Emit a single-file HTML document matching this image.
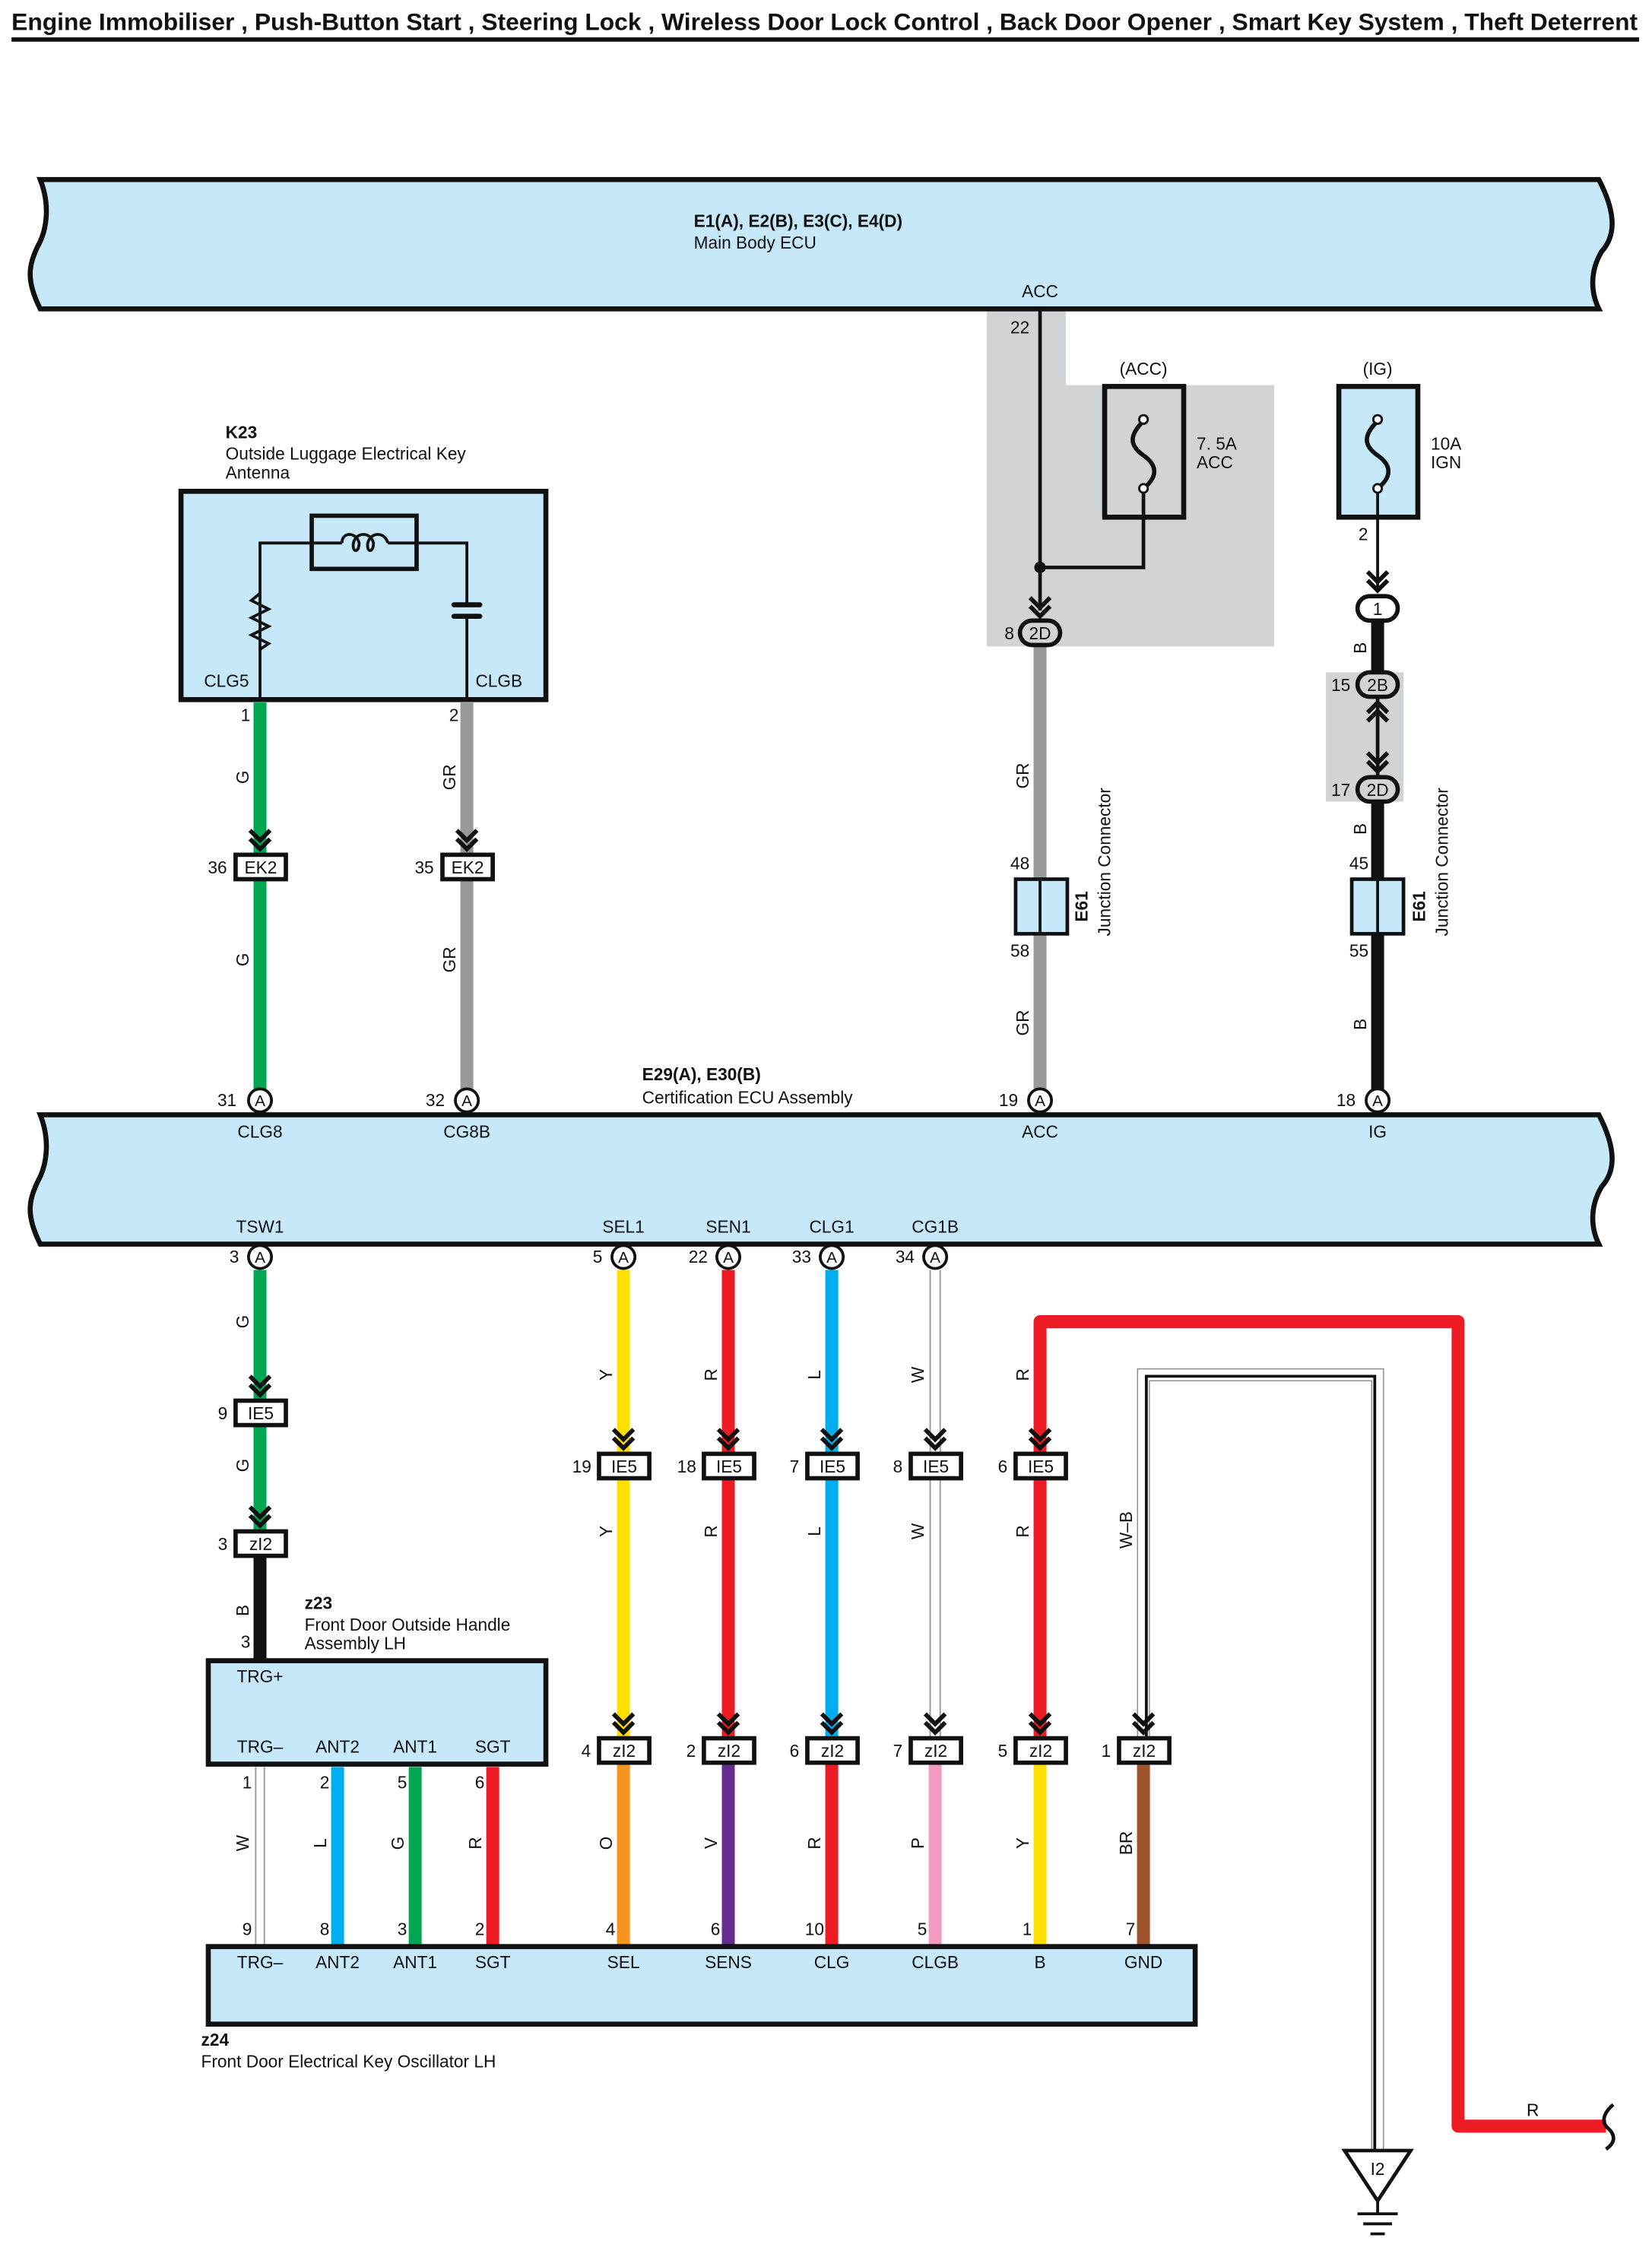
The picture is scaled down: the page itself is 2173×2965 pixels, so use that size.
<!DOCTYPE html>
<html><head><meta charset="utf-8"><style>
html,body{margin:0;padding:0;background:#fff}
svg{display:block}
text{font-family:"Liberation Sans",Arial,sans-serif;fill:#111}
</style></head><body>
<svg width="2173" height="2965" viewBox="0 0 1150 1569" preserveAspectRatio="none" xmlns="http://www.w3.org/2000/svg">
<defs>
<g id="chev"><polyline points="-7,-16 0,-9 7,-16" fill="none" stroke="#111" stroke-width="3"/><polyline points="-7,-10 0,-3 7,-10" fill="none" stroke="#111" stroke-width="3"/></g>
<g id="chevu"><polyline points="-7,16 0,9 7,16" fill="none" stroke="#111" stroke-width="3"/><polyline points="-7,10 0,3 7,10" fill="none" stroke="#111" stroke-width="3"/></g>
</defs>
<rect width="1150" height="1569" fill="#fff"/>
<!-- title -->
<text x="8" y="21" font-size="16.5" font-weight="bold" textLength="1132" lengthAdjust="spacingAndGlyphs">Engine Immobiliser , Push-Button Start , Steering Lock , Wireless Door Lock Control , Back Door Opener , Smart Key System , Theft Deterrent</text>
<rect x="8" y="26" width="1133" height="3" fill="#111"/>

<!-- gray shaded areas -->
<path d="M687,215 H742 V268 H887 V450 H687 Z" fill="#d2d3d5"/>
<rect x="923" y="468" width="54" height="90" fill="#d2d3d5"/>

<!-- Main body ECU -->
<path d="M28,125 H1113 C1126,150 1124,165 1115,175 C1106,190 1108,205 1113,215 H28 C18,195 20,185 26,172 C34,158 34,140 28,125 Z" fill="#c6e8f9" stroke="#111" stroke-width="3.5"/>
<text x="483" y="158" font-size="12" font-weight="bold">E1(A), E2(B), E3(C), E4(D)</text>
<text x="483" y="173" font-size="12">Main Body ECU</text>
<text x="724" y="207" font-size="12" text-anchor="middle">ACC</text>

<!-- ACC branch -->
<line x1="724" y1="215" x2="724" y2="425" stroke="#111" stroke-width="2.5"/>
<text x="710" y="232" font-size="12" text-anchor="middle">22</text>
<text x="796" y="261" font-size="12" text-anchor="middle">(ACC)</text>
<rect x="769" y="269" width="55" height="91" fill="none" stroke="#111" stroke-width="3.5"/>
<path d="M796,293 C786,303 786,310 796,317 C806,324 806,332 796,340" fill="none" stroke="#111" stroke-width="3"/>
<circle cx="796" cy="292" r="3" fill="#fff" stroke="#111" stroke-width="1.5"/>
<circle cx="796" cy="340" r="3" fill="#fff" stroke="#111" stroke-width="1.5"/>
<polyline points="796,343 796,395 724,395" fill="none" stroke="#111" stroke-width="2.5"/>
<circle cx="724" cy="395" r="4" fill="#111"/>
<text x="833" y="313" font-size="12">7. 5A</text>
<text x="833" y="326" font-size="12">ACC</text>
<use href="#chev" x="724" y="432"/>

<!-- IG branch -->
<text x="959" y="261" font-size="12" text-anchor="middle">(IG)</text>
<rect x="932" y="269" width="55" height="91" fill="#c6e8f9" stroke="#111" stroke-width="3.5"/>
<path d="M959,293 C949,303 949,310 959,317 C969,324 969,332 959,340" fill="none" stroke="#111" stroke-width="3"/>
<circle cx="959" cy="292" r="3" fill="#fff" stroke="#111" stroke-width="1.5"/>
<circle cx="959" cy="340" r="3" fill="#fff" stroke="#111" stroke-width="1.5"/>
<text x="996" y="313" font-size="12">10A</text>
<text x="996" y="326" font-size="12">IGN</text>
<line x1="959" y1="343" x2="959" y2="412" stroke="#111" stroke-width="2"/>
<text x="949" y="376" font-size="12" text-anchor="middle">2</text>
<use href="#chev" x="959" y="414"/>
<line x1="959" y1="430" x2="959" y2="470" stroke="#111" stroke-width="9"/>
<line x1="959" y1="485" x2="959" y2="540" stroke="#111" stroke-width="2.5"/>
<use href="#chevu" x="959" y="486"/>
<use href="#chev" x="959" y="540"/>
<line x1="959" y1="557" x2="959" y2="766" stroke="#111" stroke-width="9"/>
<rect x="945" y="415" width="28" height="17" rx="8.5" fill="#fff" stroke="#111" stroke-width="3"/>
<text x="959" y="428" font-size="12" text-anchor="middle">1</text>
<rect x="945" y="468" width="28" height="17" rx="8.5" fill="#d2d3d5" stroke="#111" stroke-width="3"/>
<text x="959" y="481" font-size="12" text-anchor="middle">2B</text>
<text x="940" y="481" font-size="12" text-anchor="end">15</text>
<rect x="945" y="541" width="28" height="17" rx="8.5" fill="#d2d3d5" stroke="#111" stroke-width="3"/>
<text x="959" y="554" font-size="12" text-anchor="middle">2D</text>
<text x="940" y="554" font-size="12" text-anchor="end">17</text>
<text transform="translate(951,451) rotate(-90)" font-size="12" text-anchor="middle">B</text>
<text transform="translate(951,577) rotate(-90)" font-size="12" text-anchor="middle">B</text>
<text transform="translate(951,713) rotate(-90)" font-size="12" text-anchor="middle">B</text>
<text x="946" y="605" font-size="12" text-anchor="middle">45</text>
<text x="946" y="666" font-size="12" text-anchor="middle">55</text>
<rect x="941" y="612" width="36" height="38" fill="#c6e8f9" stroke="#111" stroke-width="2.5"/>
<line x1="959" y1="612" x2="959" y2="650" stroke="#111" stroke-width="2"/>
<text transform="translate(992,631) rotate(-90)" font-size="12" font-weight="bold" text-anchor="middle">E61</text>
<text transform="translate(1008,600) rotate(-90)" font-size="12" text-anchor="middle">Junction Connector</text>

<!-- ACC gray wire -->
<line x1="724" y1="448" x2="724" y2="766" stroke="#98999b" stroke-width="9"/>
<rect x="710" y="432" width="28" height="17" rx="8.5" fill="#d2d3d5" stroke="#111" stroke-width="3"/>
<text x="724" y="445" font-size="12" text-anchor="middle">2D</text>
<text x="706" y="445" font-size="12" text-anchor="end">8</text>
<text transform="translate(716,540) rotate(-90)" font-size="12" text-anchor="middle">GR</text>
<text transform="translate(716,712) rotate(-90)" font-size="12" text-anchor="middle">GR</text>
<text x="710" y="605" font-size="12" text-anchor="middle">48</text>
<text x="710" y="666" font-size="12" text-anchor="middle">58</text>
<rect x="707" y="612" width="36" height="38" fill="#c6e8f9" stroke="#111" stroke-width="2.5"/>
<line x1="724" y1="612" x2="724" y2="650" stroke="#111" stroke-width="2"/>
<text transform="translate(757,631) rotate(-90)" font-size="12" font-weight="bold" text-anchor="middle">E61</text>
<text transform="translate(773,600) rotate(-90)" font-size="12" text-anchor="middle">Junction Connector</text>

<!-- K23 -->
<text x="157" y="305" font-size="12" font-weight="bold">K23</text>
<text x="157" y="320" font-size="12">Outside Luggage Electrical Key</text>
<text x="157" y="333" font-size="12">Antenna</text>
<rect x="126" y="342" width="254" height="145" fill="#c6e8f9" stroke="#111" stroke-width="3.5"/>
<rect x="217" y="359" width="73" height="37" fill="none" stroke="#111" stroke-width="3"/>
<polyline points="181,487 181,413 175,418 187,424 175,430 187,436 175,442 187,448 181,452 181,378 238,378" fill="none" stroke="#111" stroke-width="2"/>
<path d="M238,378 C238,370 248,370 250,378 C250,385 245,385 246,378 C248,370 258,370 260,378 C260,385 255,385 256,378 C258,370 268,370 270,378" fill="none" stroke="#111" stroke-width="2"/>
<polyline points="270,378 325,378 325,420" fill="none" stroke="#111" stroke-width="2"/>
<line x1="316" y1="421" x2="334" y2="421" stroke="#111" stroke-width="3.5" stroke-linecap="round"/>
<line x1="316" y1="429" x2="334" y2="429" stroke="#111" stroke-width="3.5" stroke-linecap="round"/>
<line x1="325" y1="430" x2="325" y2="487" stroke="#111" stroke-width="2"/>
<text x="142" y="478" font-size="12">CLG5</text>
<text x="331" y="478" font-size="12">CLGB</text>

<!-- K23 wires -->
<line x1="181" y1="489" x2="181" y2="766" stroke="#00a651" stroke-width="9"/>
<line x1="325" y1="489" x2="325" y2="766" stroke="#98999b" stroke-width="9"/>
<text x="171" y="502" font-size="12" text-anchor="middle">1</text>
<text x="316" y="502" font-size="12" text-anchor="middle">2</text>
<text transform="translate(173,541) rotate(-90)" font-size="12" text-anchor="middle">G</text>
<text transform="translate(317,541) rotate(-90)" font-size="12" text-anchor="middle">GR</text>
<text transform="translate(173,668) rotate(-90)" font-size="12" text-anchor="middle">G</text>
<text transform="translate(317,668) rotate(-90)" font-size="12" text-anchor="middle">GR</text>
<use href="#chev" x="181" y="594"/>
<use href="#chev" x="325" y="594"/>
<rect x="164" y="595" width="35" height="17" fill="#fff" stroke="#111" stroke-width="3"/>
<text x="181.5" y="608" font-size="12" text-anchor="middle">EK2</text>
<text x="158" y="608" font-size="12" text-anchor="end">36</text>
<rect x="308" y="595" width="35" height="17" fill="#fff" stroke="#111" stroke-width="3"/>
<text x="325.5" y="608" font-size="12" text-anchor="middle">EK2</text>
<text x="302" y="608" font-size="12" text-anchor="end">35</text>

<!-- Certification ECU -->
<path d="M28,776 H1113 C1126,801 1124,816 1115,826 C1106,841 1108,856 1113,866 H28 C18,846 20,836 26,823 C34,809 34,791 28,776 Z" fill="#c6e8f9" stroke="#111" stroke-width="3.5"/>
<text x="447" y="752" font-size="12" font-weight="bold">E29(A), E30(B)</text>
<text x="447" y="768" font-size="12">Certification ECU Assembly</text>
<g font-size="12" text-anchor="middle">
<text x="181" y="792">CLG8</text><text x="325" y="792">CG8B</text><text x="724" y="792">ACC</text><text x="959" y="792">IG</text>
<text x="181" y="858">TSW1</text><text x="434" y="858">SEL1</text><text x="507" y="858">SEN1</text><text x="579" y="858">CLG1</text><text x="651" y="858">CG1B</text>
</g>
<!-- pin circles top -->
<g font-size="11" text-anchor="middle">
<circle cx="181" cy="766" r="8" fill="#fff" stroke="#111" stroke-width="2"/><text x="181" y="770">A</text><text x="158" y="770" font-size="12">31</text>
<circle cx="325" cy="766" r="8" fill="#fff" stroke="#111" stroke-width="2"/><text x="325" y="770">A</text><text x="303" y="770" font-size="12">32</text>
<circle cx="724" cy="766" r="8" fill="#fff" stroke="#111" stroke-width="2"/><text x="724" y="770">A</text><text x="702" y="770" font-size="12">19</text>
<circle cx="959" cy="766" r="8" fill="#fff" stroke="#111" stroke-width="2"/><text x="959" y="770">A</text><text x="937" y="770" font-size="12">18</text>
</g>

<!-- lower wires -->
<line x1="181" y1="884" x2="181" y2="1074" stroke="#00a651" stroke-width="9"/>
<line x1="181" y1="1074" x2="181" y2="1156" stroke="#111" stroke-width="9"/>
<line x1="434" y1="884" x2="434" y2="1218" stroke="#ffe000" stroke-width="9"/>
<line x1="507" y1="884" x2="507" y2="1218" stroke="#ed1c24" stroke-width="9"/>
<line x1="579" y1="884" x2="579" y2="1218" stroke="#00aeef" stroke-width="9"/>
<line x1="651" y1="884" x2="651" y2="1218" stroke="#9a9a9a" stroke-width="8"/>
<line x1="651" y1="884" x2="651" y2="1218" stroke="#fff" stroke-width="6"/>
<!-- red loop -->
<polyline points="724,1218 724,920 1015,920 1015,1480 1118,1480" fill="none" stroke="#ed1c24" stroke-width="9" stroke-linejoin="round"/>
<path d="M1123,1465 C1115,1472 1115,1478 1120,1482 C1125,1487 1124,1492 1118,1496" fill="none" stroke="#111" stroke-width="2.5"/>
<text x="1067" y="1473" font-size="12" text-anchor="middle">R</text>
<!-- W-B -->
<polyline points="796,1210 796,957 959,957 959,1497" fill="none" stroke="#8a8a8a" stroke-width="9"/>
<polyline points="796,1210 796,957 959,957 959,1497" fill="none" stroke="#fff" stroke-width="7.5"/>
<polyline points="798,1210 798,958 957,958 957,1497" fill="none" stroke="#111" stroke-width="2"/>
<text transform="translate(788,1065) rotate(-90)" font-size="12" text-anchor="middle">W–B</text>
<!-- ground -->
<polygon points="936,1497 982,1497 959,1532" fill="#fff" stroke="#111" stroke-width="2.5"/>
<text x="959" y="1514" font-size="12" text-anchor="middle">I2</text>
<line x1="959" y1="1532" x2="959" y2="1541" stroke="#111" stroke-width="2"/>
<line x1="945" y1="1541" x2="973" y2="1541" stroke="#111" stroke-width="2"/>
<line x1="949" y1="1548" x2="969" y2="1548" stroke="#111" stroke-width="2"/>
<line x1="954" y1="1555" x2="964" y2="1555" stroke="#111" stroke-width="2"/>

<!-- bottom pin circles -->
<g font-size="11" text-anchor="middle">
<circle cx="181" cy="875" r="8" fill="#fff" stroke="#111" stroke-width="2"/><text x="181" y="879">A</text><text x="163" y="879" font-size="12">3</text>
<circle cx="434" cy="875" r="8" fill="#fff" stroke="#111" stroke-width="2"/><text x="434" y="879">A</text><text x="416" y="879" font-size="12">5</text>
<circle cx="507" cy="875" r="8" fill="#fff" stroke="#111" stroke-width="2"/><text x="507" y="879">A</text><text x="486" y="879" font-size="12">22</text>
<circle cx="579" cy="875" r="8" fill="#fff" stroke="#111" stroke-width="2"/><text x="579" y="879">A</text><text x="558" y="879" font-size="12">33</text>
<circle cx="651" cy="875" r="8" fill="#fff" stroke="#111" stroke-width="2"/><text x="651" y="879">A</text><text x="630" y="879" font-size="12">34</text>
</g>

<!-- color labels upper -->
<g font-size="12" text-anchor="middle">
<text transform="translate(173,920) rotate(-90)">G</text>
<text transform="translate(173,1020) rotate(-90)">G</text>
<text transform="translate(173,1121) rotate(-90)">B</text>
<text transform="translate(426,957) rotate(-90)">Y</text>
<text transform="translate(499,957) rotate(-90)">R</text>
<text transform="translate(571,957) rotate(-90)">L</text>
<text transform="translate(643,957) rotate(-90)">W</text>
<text transform="translate(716,957) rotate(-90)">R</text>
<text transform="translate(426,1066) rotate(-90)">Y</text>
<text transform="translate(499,1066) rotate(-90)">R</text>
<text transform="translate(571,1066) rotate(-90)">L</text>
<text transform="translate(643,1066) rotate(-90)">W</text>
<text transform="translate(716,1066) rotate(-90)">R</text>
<text x="171" y="1147">3</text>
</g>

<!-- chevrons & IE5 connectors -->
<use href="#chev" x="181" y="974"/>
<use href="#chev" x="181" y="1065"/>
<use href="#chev" x="434" y="1011"/><use href="#chev" x="507" y="1011"/><use href="#chev" x="579" y="1011"/><use href="#chev" x="651" y="1011"/><use href="#chev" x="724" y="1011"/>
<use href="#chev" x="434" y="1209"/><use href="#chev" x="507" y="1209"/><use href="#chev" x="579" y="1209"/><use href="#chev" x="651" y="1209"/><use href="#chev" x="724" y="1209"/><use href="#chev" x="796" y="1209"/>
<g font-size="12" text-anchor="middle">
<rect x="164" y="975" width="35" height="17" fill="#fff" stroke="#111" stroke-width="3"/><text x="181.5" y="988">IE5</text><text x="155" y="988">9</text>
<rect x="164" y="1066" width="35" height="17" fill="#fff" stroke="#111" stroke-width="3"/><text x="181.5" y="1079">zI2</text><text x="155" y="1079">3</text>
<rect x="417" y="1012" width="35" height="17" fill="#fff" stroke="#111" stroke-width="3"/><text x="434.5" y="1025">IE5</text><text x="405" y="1025">19</text>
<rect x="490" y="1012" width="35" height="17" fill="#fff" stroke="#111" stroke-width="3"/><text x="507.5" y="1025">IE5</text><text x="478" y="1025">18</text>
<rect x="562" y="1012" width="35" height="17" fill="#fff" stroke="#111" stroke-width="3"/><text x="579.5" y="1025">IE5</text><text x="553" y="1025">7</text>
<rect x="634" y="1012" width="35" height="17" fill="#fff" stroke="#111" stroke-width="3"/><text x="651.5" y="1025">IE5</text><text x="625" y="1025">8</text>
<rect x="707" y="1012" width="35" height="17" fill="#fff" stroke="#111" stroke-width="3"/><text x="724.5" y="1025">IE5</text><text x="698" y="1025">6</text>
</g>

<!-- z23 -->
<text x="212" y="1120" font-size="12" font-weight="bold">z23</text>
<text x="212" y="1135" font-size="12">Front Door Outside Handle</text>
<text x="212" y="1148" font-size="12">Assembly LH</text>
<rect x="145" y="1156" width="235" height="72" fill="#c6e8f9" stroke="#111" stroke-width="3.5"/>
<g font-size="12" text-anchor="middle">
<text x="181" y="1171">TRG+</text>
<text x="181" y="1220">TRG–</text><text x="235" y="1220">ANT2</text><text x="289" y="1220">ANT1</text><text x="343" y="1220">SGT</text>
</g>

<!-- bottom short wires -->
<line x1="181" y1="1230" x2="181" y2="1355" stroke="#9a9a9a" stroke-width="7"/>
<line x1="181" y1="1230" x2="181" y2="1355" stroke="#fff" stroke-width="5"/>
<line x1="235" y1="1230" x2="235" y2="1355" stroke="#00aeef" stroke-width="9"/>
<line x1="289" y1="1230" x2="289" y2="1355" stroke="#00a651" stroke-width="9"/>
<line x1="343" y1="1230" x2="343" y2="1355" stroke="#ed1c24" stroke-width="9"/>
<line x1="434" y1="1226" x2="434" y2="1355" stroke="#f7941d" stroke-width="9"/>
<line x1="507" y1="1226" x2="507" y2="1355" stroke="#662d91" stroke-width="9"/>
<line x1="579" y1="1226" x2="579" y2="1355" stroke="#ed1c24" stroke-width="9"/>
<line x1="651" y1="1226" x2="651" y2="1355" stroke="#f49ac1" stroke-width="9"/>
<line x1="724" y1="1226" x2="724" y2="1355" stroke="#ffe000" stroke-width="9"/>
<line x1="796" y1="1226" x2="796" y2="1355" stroke="#a0522d" stroke-width="9"/>

<!-- zI2 row -->
<g font-size="12" text-anchor="middle">
<rect x="417" y="1210" width="35" height="17" fill="#fff" stroke="#111" stroke-width="3"/><text x="434.5" y="1223">zI2</text><text x="408" y="1223">4</text>
<rect x="490" y="1210" width="35" height="17" fill="#fff" stroke="#111" stroke-width="3"/><text x="507.5" y="1223">zI2</text><text x="481" y="1223">2</text>
<rect x="562" y="1210" width="35" height="17" fill="#fff" stroke="#111" stroke-width="3"/><text x="579.5" y="1223">zI2</text><text x="553" y="1223">6</text>
<rect x="634" y="1210" width="35" height="17" fill="#fff" stroke="#111" stroke-width="3"/><text x="651.5" y="1223">zI2</text><text x="625" y="1223">7</text>
<rect x="707" y="1210" width="35" height="17" fill="#fff" stroke="#111" stroke-width="3"/><text x="724.5" y="1223">zI2</text><text x="698" y="1223">5</text>
<rect x="779" y="1210" width="35" height="17" fill="#fff" stroke="#111" stroke-width="3"/><text x="796.5" y="1223">zI2</text><text x="770" y="1223">1</text>
<!-- numbers -->
<text x="172" y="1245">1</text><text x="226" y="1245">2</text><text x="280" y="1245">5</text><text x="334" y="1245">6</text>
<text x="172" y="1347">9</text><text x="226" y="1347">8</text><text x="280" y="1347">3</text><text x="334" y="1347">2</text>
<text x="425" y="1347">4</text><text x="498" y="1347">6</text><text x="567" y="1347">10</text><text x="642" y="1347">5</text><text x="715" y="1347">1</text><text x="787" y="1347">7</text>
<!-- color labels lower -->
<text transform="translate(173,1283) rotate(-90)">W</text>
<text transform="translate(227,1283) rotate(-90)">L</text>
<text transform="translate(281,1283) rotate(-90)">G</text>
<text transform="translate(335,1283) rotate(-90)">R</text>
<text transform="translate(426,1283) rotate(-90)">O</text>
<text transform="translate(499,1283) rotate(-90)">V</text>
<text transform="translate(571,1283) rotate(-90)">R</text>
<text transform="translate(643,1283) rotate(-90)">P</text>
<text transform="translate(716,1283) rotate(-90)">Y</text>
<text transform="translate(788,1283) rotate(-90)">BR</text>
</g>

<!-- z24 -->
<rect x="145" y="1355" width="687" height="54" fill="#c6e8f9" stroke="#111" stroke-width="3.5"/>
<g font-size="12" text-anchor="middle">
<text x="181" y="1370">TRG–</text><text x="235" y="1370">ANT2</text><text x="289" y="1370">ANT1</text><text x="343" y="1370">SGT</text>
<text x="434" y="1370">SEL</text><text x="507" y="1370">SENS</text><text x="579" y="1370">CLG</text><text x="651" y="1370">CLGB</text><text x="724" y="1370">B</text><text x="796" y="1370">GND</text>
</g>
<text x="140" y="1424" font-size="12" font-weight="bold">z24</text>
<text x="140" y="1439" font-size="12">Front Door Electrical Key Oscillator LH</text>
</svg>
</body></html>
